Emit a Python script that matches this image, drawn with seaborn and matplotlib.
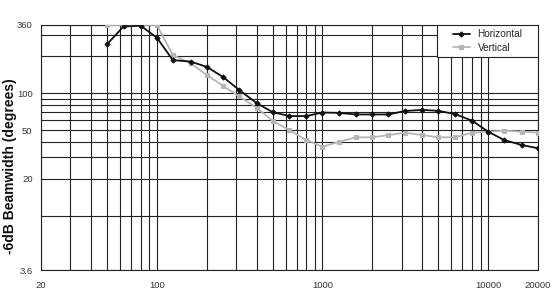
import matplotlib
matplotlib.use("Agg")
import matplotlib.pyplot as plt
from matplotlib.patches import Rectangle
from matplotlib.ticker import FixedLocator, NullFormatter
import seaborn as sns
import pandas as pd

# 1/3-octave frequencies (Hz)
freqs = [50, 63, 80, 100, 125, 160, 200, 250, 315, 400, 500, 630, 800,
         1000, 1250, 1600, 2000, 2500, 3150, 4000, 5000, 6300, 8000,
         10000, 12500, 16000, 20000]
horizontal = [250, 350, 355, 284, 186, 181, 164, 136, 106, 83, 70, 65, 65,
              69.5, 69, 67, 67, 67, 71.5, 73, 71.7, 67.6, 59.6,
              48.5, 41.4, 37.7, 35.5]
vertical = [360, 360, 360, 360, 205, 175, 141, 115, 94, 76, 59.3, 50, 41.4,
            36.5, 40, 43.6, 43.6, 45.5, 47.5, 45.5, 43.6, 43.6, 47.5,
            48.5, 49.4, 48.5, 47.5]

x_major = [20, 100, 1000, 10000, 20000]
x_major_labels = ["20", "100", "1000", "10000", "20000"]
x_minor = [30, 40, 50, 60, 70, 80, 90, 200, 300, 400, 500, 600, 700, 800, 900,
           2000, 3000, 4000, 5000, 6000, 7000, 8000, 9000]
y_major = [3.6, 20, 50, 100, 360]
y_major_labels = ["3.6", "20", "50", "100", "360"]
y_minor = [10, 30, 40, 60, 70, 80, 90, 200, 300]

df_h = pd.DataFrame({"freq": freqs, "bw": horizontal})
df_v = pd.DataFrame({"freq": freqs, "bw": vertical})

sns.set_style("white")
plt.rcParams["font.family"] = ["Liberation Sans", "DejaVu Sans"]

fig = plt.figure(figsize=(5.6, 3.08), dpi=100)
ax = fig.add_axes([41 / 560, 1 - 270 / 308, 497 / 560, 245 / 308])

sns.lineplot(data=df_v, x="freq", y="bw", ax=ax, color="#b5b5b5", lw=1.3,
             marker="s", markersize=3.2, markeredgecolor="#b5b5b5",
             label="Vertical", sort=False, zorder=3)
sns.lineplot(data=df_h, x="freq", y="bw", ax=ax, color="#111111", lw=1.3,
             marker="D", markersize=2.6, markeredgecolor="#111111",
             label="Horizontal", sort=False, zorder=4)

ax.set_xscale("log")
ax.set_yscale("log")
ax.set_xlim(20, 20000)
ax.set_ylim(3.6, 360)

ax.xaxis.set_major_locator(FixedLocator(x_major))
ax.xaxis.set_minor_locator(FixedLocator(x_minor))
ax.set_xticklabels(x_major_labels)
ax.xaxis.set_minor_formatter(NullFormatter())
ax.yaxis.set_major_locator(FixedLocator(y_major))
ax.yaxis.set_minor_locator(FixedLocator(y_minor))
ax.set_yticklabels(y_major_labels)
ax.yaxis.set_minor_formatter(NullFormatter())

ax.tick_params(which="both", length=0)
ax.tick_params(axis="x", pad=8, labelsize=6.8, colors="#333333")
ax.tick_params(axis="y", pad=6, labelsize=6.8, colors="#333333")
ax.grid(True, which="both", color="#222222", lw=0.8)
ax.set_axisbelow(True)
for s in ax.spines.values():
    s.set_color("#222222")
    s.set_linewidth(0.8)

ax.set_xlabel("")
ax.set_ylabel("-6dB Beamwidth (degrees)", fontsize=10, fontweight="bold",
              color="#111111")
ax.yaxis.set_label_coords(-0.048, 0.424)

# legend box
ax.add_patch(Rectangle((0.797, 0.869), 0.203, 0.131, transform=ax.transAxes,
                       facecolor="white", edgecolor="#222222", lw=0.8,
                       zorder=5))
handles, labels = ax.get_legend_handles_labels()
order = [labels.index("Horizontal"), labels.index("Vertical")]
leg = ax.legend([handles[i] for i in order], [labels[i] for i in order],
                loc="center", bbox_to_anchor=(0.797, 0.869, 0.203, 0.131),
                frameon=False, fontsize=7.2, handlelength=1.7,
                handletextpad=0.8, labelspacing=0.35, borderpad=0.2)
leg.set_zorder(6)

fig.savefig("out.png", dpi=100)
